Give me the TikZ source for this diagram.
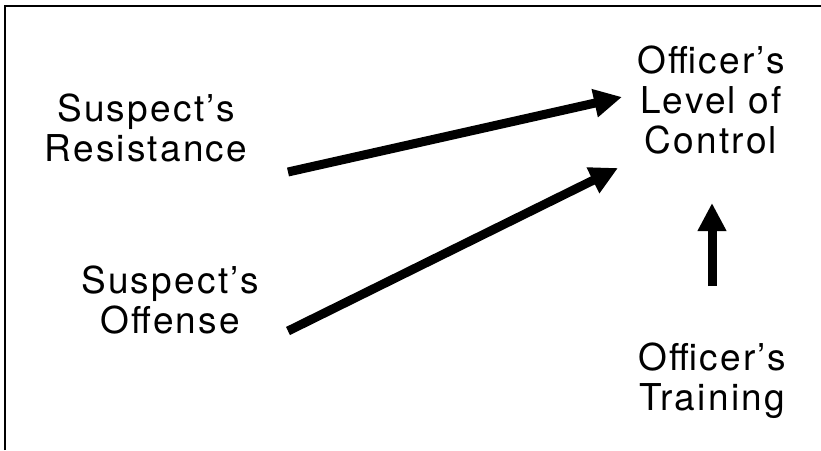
\documentclass[tikz,border=0pt]{standalone}
\usepackage{fontspec}
\setmainfont{TeX Gyre Heros}[LetterSpace=6]
\usetikzlibrary{arrows.meta}
\newcommand\lnstrut{\rule[-9pt]{0pt}{36pt}}
\tikzset{
  lbl/.style={anchor=north, inner sep=0pt, align=center,
    font={\fontsize{37}{40}\selectfont}},
  bigarrow/.style={line width=9pt, -{Triangle[length=28pt,width=27pt]}},
  frame/.style={line width=1.6pt}
}
\begin{document}
\begin{tikzpicture}[x=1pt,y=-1pt]
\useasboundingbox (0,0) rectangle (821,450);
\coordinate (fb) at (5,450);
\coordinate (fc) at (5,6);
\coordinate (fr) at (821,6);
\draw[frame] (fb) -- (fc) -- (fr);

\node[lbl] (res) at (146,94) {\lnstrut Suspect’s\\\lnstrut Resistance};
\node[lbl] (off) at (170,266) {\lnstrut Suspect’s\\\lnstrut Offense};
\node[lbl] (ctl) at (711,46) {\lnstrut Officer’s\\\lnstrut Level of\\\lnstrut Control};
\node[lbl] (trn) at (712,343) {\lnstrut Officer’s\\\lnstrut Training};

\coordinate (r0) at (288,172);
\coordinate (r1) at (622,97);
\coordinate (o0) at (288,331);
\coordinate (o1) at (618,168);
\coordinate (t0) at (712,286);
\coordinate (t1) at (712,203);

\draw[bigarrow] (r0) -- (r1);
\draw[bigarrow] (o0) -- (o1);
\draw[bigarrow] (t0) -- (t1);
\end{tikzpicture}
\end{document}
